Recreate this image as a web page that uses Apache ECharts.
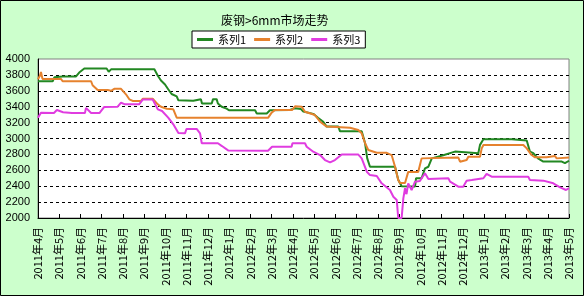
<!DOCTYPE html>
<html>
<head>
<meta charset="utf-8">
<script src="https://cdn.jsdelivr.net/npm/echarts@6/dist/echarts.min.js"></script>
<style>
html,body{margin:0;padding:0;background:#CCFFCC;}
#c{width:584px;height:296px;}
</style>
</head>
<body>
<div id="c"></div>
<script>
// Tick labels (one per month, position = month index from 2011-04)
var monthLabels = [
  '2011年4月','2011年5月','2011年6月','2011年7月','2011年8月','2011年9月','2011年10月','2011年11月','2011年12月',
  '2012年1月','2012年2月','2012年3月','2012年4月','2012年5月','2012年6月','2012年7月','2012年8月','2012年9月',
  '2012年10月','2012年11月','2012年12月','2013年1月','2013年2月','2013年3月','2013年4月','2013年5月'
];
var seriesNames = ['系列1','系列2','系列3'];

// [month position, price]
var series1 = [
  [0,3720],[0.69,3720],[0.77,3770],[1.16,3780],[1.79,3780],[1.94,3830],[2.18,3880],[3.23,3880],[3.33,3840],[3.44,3870],
  [5.48,3870],[5.64,3790],[5.79,3730],[5.98,3680],[6.13,3620],[6.29,3560],[6.53,3530],[6.61,3480],[7.31,3475],[7.39,3495],
  [7.67,3495],[7.72,3440],[8.18,3440],[8.24,3495],[8.41,3495],[8.47,3440],[8.65,3400],[8.88,3375],[8.99,3355],[10.22,3355],
  [10.30,3315],[10.77,3315],[10.92,3355],[11.86,3360],[12.10,3380],[12.38,3370],[12.49,3340],[12.96,3310],[13.18,3260],
  [13.43,3210],[13.59,3150],[14.14,3150],[14.22,3090],[15.24,3090],[15.40,2940],[15.50,2750],[15.63,2645],[16.81,2645],
  [16.96,2480],[17.12,2400],[17.75,2395],[17.80,2500],[18.06,2500],[18.22,2625],[18.38,2645],[18.54,2750],[19.08,2790],
  [19.63,2835],[19.71,2815],[20.73,2815],[20.81,2920],[20.97,2990],[22.30,2990],[22.38,2975],[23.01,2975],[23.16,2835],
  [23.32,2815],[23.54,2750],[23.79,2710],[24.66,2710],[24.81,2690],[25,2720]
];
var series2 = [
  [0,3745],[0.09,3790],[0.14,3836],[0.21,3750],[1.08,3750],[1.16,3720],[2.50,3720],[2.57,3670],[2.65,3660],[2.81,3610],
  [3.28,3610],[3.34,3630],[3.44,3600],[3.59,3625],[3.91,3625],[4.14,3556],[4.30,3493],[4.46,3472],[4.85,3472],[4.93,3500],
  [5.40,3500],[5.64,3430],[5.79,3400],[6.06,3375],[6.37,3367],[6.53,3262],[10.84,3262],[11.00,3325],[11.16,3358],
  [11.96,3358],[12.10,3405],[12.42,3400],[12.57,3337],[13.04,3295],[13.28,3211],[13.59,3150],[14.69,3135],[15.08,3107],
  [15.24,3065],[15.40,2940],[15.55,2855],[15.95,2820],[16.42,2820],[16.65,2792],[16.81,2645],[16.96,2478],[17.04,2440],
  [17.28,2440],[17.43,2580],[17.90,2580],[18.06,2750],[19.79,2760],[19.87,2708],[20.18,2729],[20.26,2771],[20.81,2771],
  [20.89,2876],[20.97,2918],[22.85,2918],[23.01,2876],[23.24,2792],[23.40,2763],[23.95,2763],[24.01,2780],[24.34,2780],
  [24.42,2750],[25,2760]
];
var series3 = [
  [0,3262],[0.14,3325],[0.75,3320],[0.89,3358],[1.18,3330],[1.60,3320],[2.21,3320],[2.26,3385],[2.50,3320],[2.89,3320],
  [3.11,3396],[3.75,3400],[3.91,3450],[4.10,3430],[4.76,3430],[4.93,3490],[5.40,3490],[5.64,3367],[5.84,3346],[6.13,3262],
  [6.37,3178],[6.61,3070],[6.92,3065],[6.99,3120],[7.47,3120],[7.63,3065],[7.71,2940],[8.47,2940],[8.66,2905],[8.95,2850],
  [10.83,2845],[11.02,2897],[11.94,2897],[11.98,2940],[12.57,2940],[12.65,2897],[12.96,2834],[13.28,2792],[13.51,2729],
  [13.75,2700],[13.98,2729],[14.30,2800],[15.07,2800],[15.24,2750],[15.48,2582],[15.63,2540],[15.95,2528],[16.18,2436],
  [16.57,2352],[16.73,2268],[16.89,2226],[16.96,2000],[17.12,2000],[17.20,2247],[17.28,2374],[17.35,2300],[17.43,2436],
  [17.59,2352],[17.75,2457],[17.98,2465],[18.22,2562],[18.38,2490],[19.32,2500],[19.40,2457],[19.79,2394],[20.02,2394],
  [20.18,2470],[20.42,2478],[20.97,2500],[21.12,2555],[21.36,2520],[23.08,2520],[23.16,2478],[23.79,2470],[24.26,2436],
  [24.58,2385],[24.86,2352],[25,2375]
];
var colors = ['#228822','#E6822E','#E03CE0'];

var chart = echarts.init(document.getElementById('c'));
var font = '"Noto Sans CJK SC", "Liberation Sans", sans-serif';
chart.setOption({
  animation: false,
  backgroundColor: '#CCFFCC',
  textStyle: {fontFamily: font},
  title: {
    text: '废钢>6mm市场走势',
    left: 216, top: 9,
    textStyle: {fontSize: 12, fontWeight: 'normal', color: '#000', fontFamily: font}
  },
  legend: {
    data: seriesNames,
    left: 192, top: 31,
    padding: [3, 5],
    backgroundColor: '#fff',
    borderColor: '#000', borderWidth: 1, borderRadius: 0,
    itemWidth: 16, itemHeight: 3, itemGap: 8,
    icon: 'rect',
    textStyle: {fontSize: 11, color: '#000', fontFamily: font}
  },
  graphic: [{
    type: 'rect', z: 100, silent: true,
    shape: {x: 0.5, y: 0.5, width: 583, height: 295},
    style: {fill: 'none', stroke: '#000', lineWidth: 1}
  }],
  grid: {
    left: 38, right: 15, top: 59, bottom: 78,
    show: true, backgroundColor: '#fff', borderColor: '#808080', borderWidth: 1
  },
  xAxis: {
    type: 'value', min: 0, max: 25, interval: 1,
    axisLine: {show: true, lineStyle: {color: '#000'}},
    axisTick: {show: true, inside: true, length: 4, lineStyle: {color: '#000'}},
    splitLine: {show: false},
    axisLabel: {
      rotate: 90, margin: 9, fontSize: 11, color: '#000', fontFamily: font,
      formatter: function (v) { return monthLabels[Math.round(v)] || ''; }
    }
  },
  yAxis: {
    type: 'value', min: 2000, max: 4000, interval: 200,
    axisLine: {show: true, lineStyle: {color: '#000'}},
    axisTick: {show: false},
    axisLabel: {margin: 8, fontSize: 11, color: '#000', fontFamily: '"Liberation Sans", sans-serif',
      formatter: function (v) { return String(v); }},
    splitLine: {show: true, showMinLine: false, showMaxLine: false, lineStyle: {color: '#000', type: [3, 3], width: 1}}
  },
  series: [series1, series2, series3].map(function (d, i) {
    return {
      name: seriesNames[i], type: 'line', data: d, symbol: 'none',
      lineStyle: {width: 2, color: colors[i]}, itemStyle: {color: colors[i]}
    };
  })
});
</script>
</body>
</html>
